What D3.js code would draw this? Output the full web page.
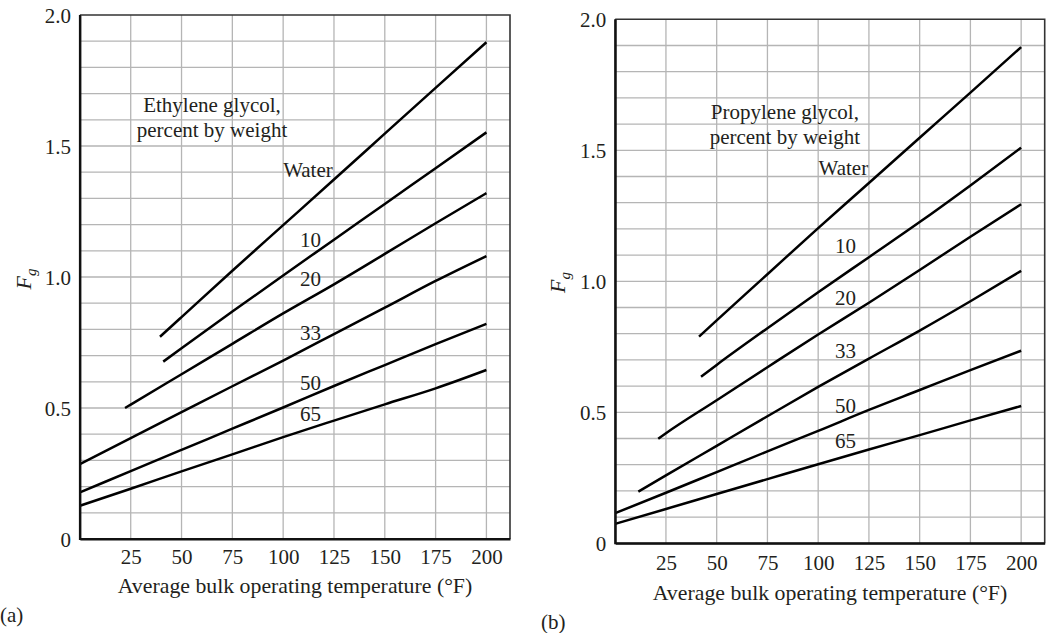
<!DOCTYPE html>
<html>
<head>
<meta charset="utf-8">
<script src="https://cdn.jsdelivr.net/npm/d3@7"></script>
<style>
  html, body { margin: 0; padding: 0; background: #fff; }
  svg { display: block; }
  text { font-family: "Liberation Serif", "Times New Roman", serif; fill: #231f20; }
</style>
</head>
<body>
<svg id="chart" width="1046" height="633"></svg>
<script>
// ---------- data ----------
const xTicks = [25, 50, 75, 100, 125, 150, 175, 200];
const yTicks = [0, 0.5, 1.0, 1.5, 2.0];
const seriesNames = ["Water", "10", "20", "33", "50", "65"];

// (a) Ethylene glycol  — [temperature °F, Fg]
const ethWater = [[39.4, 0.772], [50, 0.847], [75, 1.024], [100, 1.198], [125, 1.372], [150, 1.547], [175, 1.722], [200, 1.896]];
const eth10 = [[41.0, 0.677], [50, 0.728], [75, 0.868], [100, 1.006], [125, 1.142], [150, 1.279], [175, 1.415], [200, 1.552]];
const eth20 = [[22.2, 0.500], [25, 0.513], [50, 0.629], [75, 0.745], [100, 0.861], [125, 0.972], [150, 1.088], [175, 1.205], [200, 1.320]];
const eth33 = [[0, 0.286], [25, 0.385], [50, 0.484], [75, 0.583], [100, 0.681], [125, 0.782], [150, 0.883], [175, 0.985], [200, 1.080]];
const eth50 = [[0, 0.178], [25, 0.259], [50, 0.340], [75, 0.421], [100, 0.502], [125, 0.584], [150, 0.664], [175, 0.744], [200, 0.821]];
const eth65 = [[0, 0.127], [25, 0.192], [50, 0.258], [75, 0.323], [100, 0.389], [125, 0.452], [150, 0.514], [175, 0.575], [200, 0.645]];

// (b) Propylene glycol
const proWater = [[41.3, 0.789], [50, 0.851], [75, 1.027], [100, 1.203], [125, 1.375], [150, 1.548], [175, 1.720], [200, 1.894]];
const pro10 = [[42.3, 0.636], [50, 0.681], [75, 0.821], [100, 0.958], [125, 1.092], [150, 1.226], [175, 1.366], [200, 1.510]];
const pro20 = [[21.2, 0.399], [25, 0.420], [50, 0.546], [75, 0.672], [100, 0.797], [125, 0.918], [150, 1.043], [175, 1.170], [200, 1.294]];
const pro33 = [[11.4, 0.197], [25, 0.259], [50, 0.372], [75, 0.485], [100, 0.597], [125, 0.705], [150, 0.812], [175, 0.924], [200, 1.040]];
const pro50 = [[0, 0.115], [25, 0.193], [50, 0.272], [75, 0.351], [100, 0.429], [125, 0.509], [150, 0.585], [175, 0.661], [200, 0.735]];
const pro65 = [[0, 0.074], [25, 0.131], [50, 0.188], [75, 0.245], [100, 0.302], [125, 0.358], [150, 0.413], [175, 0.469], [200, 0.524]];

const titleA = ["Ethylene glycol,", "percent by weight"];
const titleB = ["Propylene glycol,", "percent by weight"];
const xTitle = "Average bulk operating temperature (°F)";

// ---------- drawing ----------
const svg = d3.select("#chart");
const FS = "21px";

function panel(cfg) {
  const x = d3.scaleLinear().domain([0, 211.6]).range([cfg.left, cfg.right]);
  const y = d3.scaleLinear().domain([0, 2]).range([cfg.bottom, cfg.top]);
  const g = svg.append("g");

  // grid
  const hGrid = d3.range(1, 20).map(d => d / 10);
  g.append("g").selectAll("line").data(xTicks).join("line")
    .attr("x1", d => x(d)).attr("x2", d => x(d))
    .attr("y1", cfg.top).attr("y2", cfg.bottom)
    .attr("stroke", "#b5b5b5").attr("stroke-width", 1.3);
  g.append("g").selectAll("line").data(hGrid).join("line")
    .attr("x1", cfg.left).attr("x2", cfg.right)
    .attr("y1", d => y(d)).attr("y2", d => y(d))
    .attr("stroke", "#b5b5b5").attr("stroke-width", 1.3);

  // frame top/right
  g.append("path")
    .attr("d", `M${cfg.left},${cfg.top}H${cfg.right}V${cfg.bottom}`)
    .attr("fill", "none").attr("stroke", "#333").attr("stroke-width", 1.6);

  // data lines
  const line = d3.line().x(d => x(d[0])).y(d => y(d[1])).curve(d3.curveMonotoneX);
  g.append("g").selectAll("path").data(cfg.series).join("path")
    .attr("d", d => line(d))
    .attr("fill", "none").attr("stroke", "#000").attr("stroke-width", 2.5)
    .attr("stroke-linejoin", "round");

  // axes
  const xa = g.append("g").attr("transform", `translate(0,${cfg.bottom})`)
    .call(d3.axisBottom(x).tickValues(xTicks).tickSize(0).tickFormat(d3.format("d")));
  xa.select(".domain").attr("stroke", "#111").attr("stroke-width", 2);
  xa.selectAll("text").attr("y", cfg.xTickOff).attr("dy", 0)
    .style("font-size", FS).style("font-family", "Liberation Serif").attr("fill", "#231f20");

  const ya = g.append("g").attr("transform", `translate(${cfg.left},0)`)
    .call(d3.axisLeft(y).tickValues(yTicks).tickSize(0).tickPadding(9)
      .tickFormat(d => d === 0 ? "0" : d3.format(".1f")(d)));
  ya.select(".domain").attr("stroke", "#111").attr("stroke-width", 2);
  ya.selectAll("text").attr("dy", "0.34em")
    .style("font-size", FS).style("font-family", "Liberation Serif").attr("fill", "#231f20");

  // bottom-left frame on top
  g.append("path")
    .attr("d", `M${cfg.left},${cfg.top}V${cfg.bottom}H${cfg.right}`)
    .attr("fill", "none").attr("stroke", "#111").attr("stroke-width", 2);

  // axis titles
  g.append("text").attr("x", cfg.xTitleX).attr("y", cfg.xTitleY)
    .attr("text-anchor", "middle").style("font-size", "21.8px").text(xTitle);
  const yl = g.append("text")
    .attr("transform", `translate(${cfg.yLabelX},${cfg.yLabelY}) rotate(-90)`)
    .attr("text-anchor", "middle").style("font-size", "22px");
  yl.append("tspan").style("font-style", "italic").text("F");
  yl.append("tspan").style("font-style", "italic").style("font-size", "15px").attr("dy", 5).text("g");

  // title annotation
  cfg.title.forEach((t, i) => {
    g.append("text").attr("x", x(cfg.titleX)).attr("y", y(cfg.titleY[i]))
      .attr("text-anchor", "middle").style("font-size", FS).text(t);
  });
  // series labels
  seriesNames.forEach((s, i) => {
    g.append("text").attr("x", x(cfg.labelX[i])).attr("y", y(cfg.labelY[i]))
      .style("font-size", FS).text(s);
  });

  // panel tag
  svg.append("text").attr("x", cfg.tagX).attr("y", cfg.tagY)
    .style("font-size", FS).text(cfg.tag);
}

panel({
  left: 79.9, right: 510, top: 15, bottom: 539,
  series: [ethWater, eth10, eth20, eth33, eth50, eth65],
  xTickOff: 24.5, xTitleX: 295, xTitleY: 593, yLabelX: 31, yLabelY: 279,
  title: titleA, titleX: 65, titleY: [1.63, 1.534],
  labelX: [100, 108.3, 108.3, 108.3, 108.3, 108.3],
  labelY: [1.382, 1.116, 0.966, 0.760, 0.569, 0.452],
  tag: "(a)", tagX: 0, tagY: 622
});

panel({
  left: 615.2, right: 1044.7, top: 19.3, bottom: 543.3,
  series: [proWater, pro10, pro20, pro33, pro50, pro65],
  xTickOff: 26.5, xTitleX: 830, xTitleY: 599.5, yLabelX: 565, yLabelY: 282.5,
  title: titleB, titleX: 83.6, titleY: [1.619, 1.524],
  labelX: [100.2, 108.3, 108.3, 108.3, 108.3, 108.3],
  labelY: [1.406, 1.109, 0.91, 0.706, 0.496, 0.365],
  tag: "(b)", tagX: 541, tagY: 629
});
</script>
</body>
</html>
